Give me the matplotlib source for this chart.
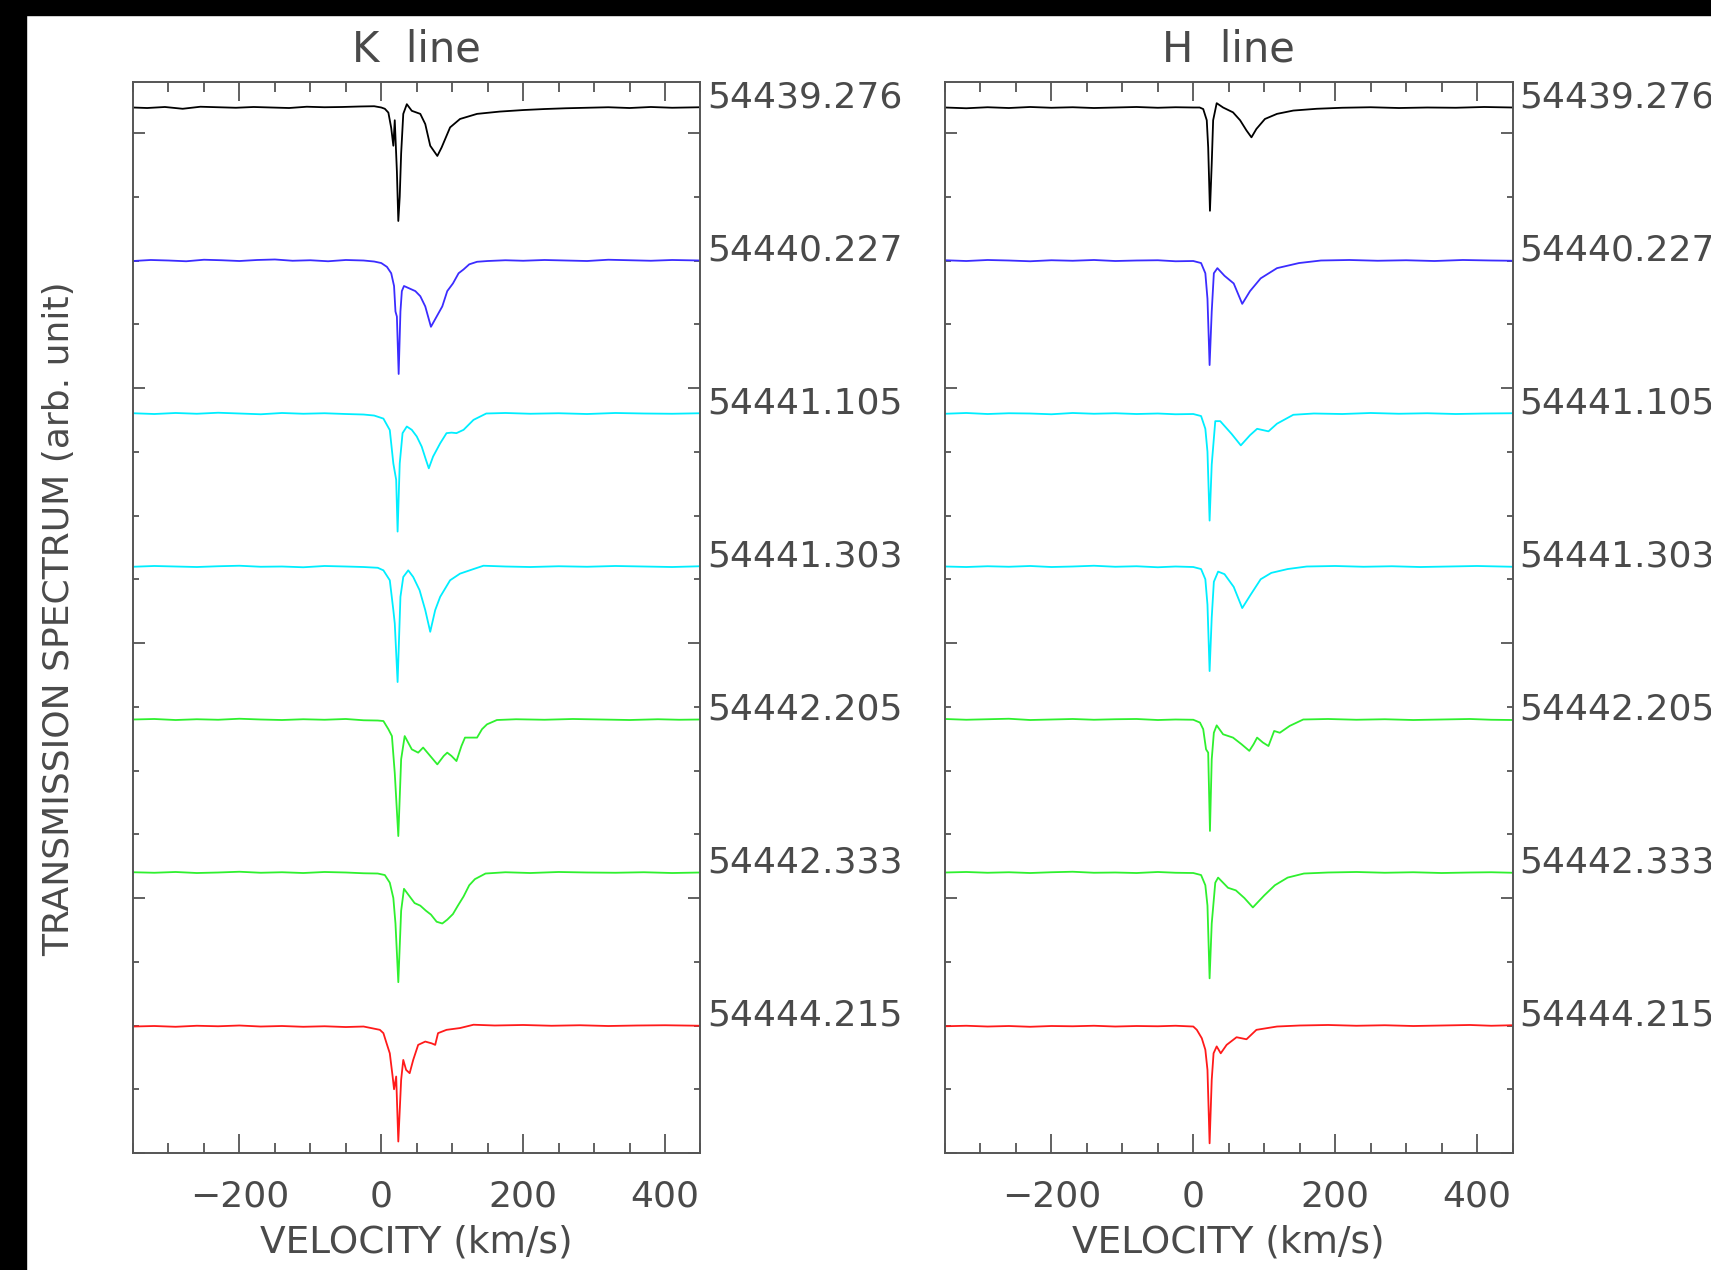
import matplotlib
matplotlib.use('Agg')
import matplotlib.pyplot as plt
from matplotlib.ticker import MultipleLocator
from matplotlib.patches import Rectangle

# dates (MJD) of the 7 spectra, top to bottom
dates = ["54439.276", "54440.227", "54441.105", "54441.303", "54442.205", "54442.333", "54444.215"]
colors = ['black', '#3b2cff', '#00eeff', '#00eeff', '#2ef02e', '#2ef02e', '#ff1a1a']
offsets = [3.1, 2.5, 1.9, 1.3, 0.7, 0.1, -0.5]

# ---- K line: velocity (km/s) and normalized transmission
k0_v = [-350, -330, -305, -280, -255, -230, -205, -180, -155, -130, -105, -80, -55, -30, -10, 0, 5, 10, 14, 17, 19, 22, 24, 26, 28, 31, 36, 43, 55, 62, 69, 79, 85, 97, 111, 135, 167, 200, 230, 260, 290, 320, 350, 380, 410, 450]
k0_f = [1.000, 0.998, 1.002, 0.995, 1.003, 1.001, 0.999, 1.002, 1.000, 0.998, 1.003, 1.001, 1.002, 1.004, 1.005, 1.000, 0.995, 0.980, 0.920, 0.850, 0.950, 0.750, 0.555, 0.650, 0.820, 0.975, 1.013, 0.987, 0.975, 0.935, 0.850, 0.810, 0.843, 0.922, 0.955, 0.975, 0.984, 0.990, 0.994, 0.997, 0.999, 1.001, 0.998, 1.002, 0.999, 1.001]

k1_v = [-350, -325, -300, -275, -250, -225, -200, -175, -150, -125, -100, -75, -50, -25, -10, 0, 8, 14, 18, 20, 22, 24.5, 27, 29, 32, 40, 48, 55, 62, 70, 78, 86, 93, 101, 109, 116, 124, 135, 150, 175, 200, 230, 260, 290, 320, 350, 380, 410, 450]
k1_f = [0.998, 1.002, 1.000, 0.997, 1.003, 1.001, 0.998, 1.002, 1.004, 0.999, 1.001, 0.997, 1.002, 1.000, 0.996, 0.990, 0.975, 0.950, 0.900, 0.800, 0.780, 0.555, 0.800, 0.880, 0.900, 0.890, 0.880, 0.860, 0.820, 0.740, 0.780, 0.820, 0.880, 0.910, 0.950, 0.965, 0.985, 0.995, 0.998, 1.001, 0.999, 1.002, 1.000, 0.998, 1.003, 1.001, 0.999, 1.002, 1.000]

k2_v = [-350, -320, -290, -260, -230, -200, -170, -140, -110, -80, -50, -25, -10, 3, 12, 17, 21, 23, 26, 30, 36, 43, 50, 57, 63, 67, 73, 83, 92, 99, 106, 116, 130, 148, 175, 210, 250, 290, 330, 370, 410, 450]
k2_f = [1.001, 0.998, 1.002, 0.999, 1.003, 1.000, 0.997, 1.002, 0.999, 1.001, 0.998, 0.996, 0.992, 0.980, 0.935, 0.804, 0.740, 0.537, 0.804, 0.923, 0.949, 0.936, 0.910, 0.870, 0.818, 0.785, 0.831, 0.883, 0.923, 0.925, 0.923, 0.936, 0.975, 1.000, 1.002, 0.999, 1.001, 0.998, 1.002, 1.000, 0.999, 1.001]

k3_v = [-350, -320, -290, -260, -230, -200, -170, -140, -110, -80, -50, -25, -5, 3, 12, 17, 19, 23, 27, 31, 38, 45, 54, 62, 69, 76, 83, 97, 111, 130, 144, 175, 210, 250, 290, 330, 370, 410, 450]
k3_f = [0.999, 1.002, 1.000, 0.998, 1.001, 1.003, 0.999, 1.000, 0.997, 1.002, 1.000, 0.998, 0.995, 0.985, 0.946, 0.829, 0.777, 0.547, 0.881, 0.959, 0.985, 0.959, 0.907, 0.829, 0.744, 0.829, 0.881, 0.946, 0.972, 0.990, 1.003, 1.000, 0.998, 1.001, 0.999, 1.002, 1.000, 0.998, 1.001]

k4_v = [-350, -320, -290, -260, -230, -200, -170, -140, -110, -80, -50, -25, -5, 3, 10, 15, 19, 24, 28, 33, 43, 52, 59, 69, 79, 88, 93, 99, 106, 113, 118, 135, 142, 149, 163, 190, 230, 270, 310, 350, 390, 420, 450]
k4_f = [1.000, 1.002, 0.998, 1.001, 0.999, 1.003, 1.000, 0.998, 1.001, 0.999, 1.002, 0.997, 0.996, 0.994, 0.962, 0.935, 0.790, 0.543, 0.844, 0.935, 0.883, 0.870, 0.890, 0.857, 0.824, 0.857, 0.870, 0.857, 0.837, 0.896, 0.929, 0.929, 0.962, 0.981, 0.998, 1.001, 0.999, 1.002, 1.000, 0.998, 1.001, 0.999, 1.000]

k5_v = [-350, -320, -290, -260, -230, -200, -170, -140, -110, -80, -50, -25, -5, 5, 12, 17, 20, 24, 28, 32, 40, 47, 55, 63, 70, 78, 86, 93, 101, 108, 116, 124, 132, 147, 175, 210, 250, 290, 330, 370, 410, 450]
k5_f = [1.001, 0.999, 1.002, 0.998, 1.000, 1.003, 0.999, 1.001, 0.998, 1.002, 1.000, 0.997, 0.996, 0.990, 0.960, 0.900, 0.800, 0.570, 0.850, 0.936, 0.906, 0.880, 0.870, 0.850, 0.835, 0.807, 0.800, 0.815, 0.837, 0.870, 0.906, 0.950, 0.974, 0.996, 1.001, 0.998, 1.002, 1.000, 0.999, 1.001, 0.998, 1.000]

k6_v = [-350, -320, -290, -260, -230, -200, -170, -140, -110, -80, -50, -25, -2, 3, 7.5, 12, 16, 18, 21, 24, 28, 31, 35, 40, 45, 52, 62, 71, 76, 80, 92, 111, 130, 160, 200, 240, 280, 320, 360, 400, 450]
k6_f = [0.996, 0.998, 0.995, 0.999, 0.997, 1.000, 0.996, 0.998, 0.995, 0.997, 0.994, 0.996, 0.983, 0.970, 0.930, 0.891, 0.800, 0.750, 0.800, 0.545, 0.787, 0.865, 0.826, 0.813, 0.865, 0.924, 0.937, 0.930, 0.924, 0.970, 0.983, 0.990, 1.003, 1.000, 1.002, 0.999, 1.001, 0.998, 1.000, 1.001, 0.999]

# ---- H line
h0_v = [-350, -320, -290, -260, -230, -200, -170, -140, -110, -80, -50, -25, 0, 9, 14, 19, 21, 23.5, 26, 28, 33, 42, 56, 66, 75, 82, 89, 101, 118, 141, 174, 210, 250, 290, 330, 370, 410, 450]
h0_f = [1.000, 0.997, 1.001, 0.998, 1.002, 0.999, 1.001, 0.998, 1.000, 1.002, 0.999, 1.001, 1.000, 1.000, 0.994, 0.950, 0.844, 0.595, 0.780, 0.950, 1.017, 1.000, 0.981, 0.950, 0.910, 0.883, 0.916, 0.955, 0.975, 0.988, 0.995, 0.999, 1.001, 0.998, 1.000, 0.999, 1.002, 1.000]

h1_v = [-350, -320, -290, -260, -230, -200, -170, -140, -110, -80, -50, -25, 0, 11, 17, 20, 23, 26, 29, 34, 44, 57, 69, 80, 95, 118, 149, 180, 220, 260, 300, 340, 380, 420, 450]
h1_f = [1.001, 0.998, 1.002, 1.000, 0.997, 1.001, 0.999, 1.002, 0.998, 1.000, 1.001, 0.997, 0.998, 0.990, 0.950, 0.850, 0.590, 0.800, 0.950, 0.970, 0.940, 0.910, 0.830, 0.880, 0.930, 0.970, 0.990, 1.000, 1.002, 0.999, 1.001, 0.998, 1.002, 1.000, 0.999]

h2_v = [-350, -320, -290, -260, -230, -200, -170, -140, -110, -80, -50, -25, 0, 11, 17, 20, 23, 26, 31, 38, 54, 67, 80, 90, 98, 106, 118, 141, 170, 210, 250, 290, 330, 370, 410, 450]
h2_f = [0.999, 1.002, 0.998, 1.001, 1.000, 0.997, 1.002, 0.999, 1.001, 0.998, 1.000, 0.997, 0.998, 0.990, 0.940, 0.850, 0.580, 0.800, 0.970, 0.970, 0.920, 0.875, 0.915, 0.940, 0.935, 0.930, 0.960, 0.995, 1.000, 0.998, 1.002, 0.999, 1.001, 0.998, 1.000, 1.001]

h3_v = [-350, -320, -290, -260, -230, -200, -170, -140, -110, -80, -50, -25, 0, 11, 17, 20, 23, 26, 29, 35, 44, 57, 69, 81, 95, 110, 133, 160, 200, 240, 280, 320, 360, 400, 450]
h3_f = [1.000, 0.998, 1.001, 0.999, 1.002, 0.998, 1.000, 1.003, 0.999, 1.001, 0.997, 1.000, 0.998, 0.990, 0.950, 0.850, 0.590, 0.800, 0.940, 0.980, 0.970, 0.920, 0.837, 0.890, 0.950, 0.975, 0.990, 1.000, 1.002, 0.999, 1.001, 0.998, 1.000, 1.002, 0.999]

h4_v = [-350, -320, -290, -260, -230, -200, -170, -140, -110, -80, -50, -25, 0, 9.4, 14, 18, 21, 23.5, 26, 29, 33, 42, 56, 68, 79, 85, 90, 98, 106, 114, 122, 136, 155, 190, 230, 270, 310, 350, 390, 420, 450]
h4_f = [1.002, 0.999, 1.001, 1.003, 0.998, 1.000, 1.002, 0.999, 1.001, 1.002, 0.998, 1.000, 0.999, 0.988, 0.962, 0.883, 0.870, 0.563, 0.844, 0.948, 0.977, 0.942, 0.929, 0.903, 0.877, 0.903, 0.929, 0.910, 0.896, 0.955, 0.948, 0.975, 1.000, 1.002, 0.999, 1.001, 0.998, 1.000, 1.002, 0.999, 0.998]

h5_v = [-350, -320, -290, -260, -230, -200, -170, -140, -110, -80, -50, -25, 0, 11, 17, 20, 23, 26, 31, 35, 49, 60, 72, 84, 100, 115, 133, 156, 190, 230, 270, 310, 350, 390, 420, 450]
h5_f = [1.000, 1.002, 0.999, 1.001, 0.998, 1.001, 1.003, 0.999, 1.000, 0.998, 1.002, 0.999, 0.998, 0.990, 0.950, 0.870, 0.585, 0.800, 0.960, 0.980, 0.940, 0.930, 0.900, 0.863, 0.910, 0.950, 0.980, 0.996, 1.000, 1.002, 0.999, 1.001, 0.998, 1.000, 1.001, 0.999]

h6_v = [-350, -320, -290, -260, -230, -200, -170, -140, -110, -80, -50, -25, 0, 5, 12, 17, 20, 23, 26, 28.6, 33, 38.7, 47, 61, 75, 89, 118, 150, 190, 230, 270, 310, 350, 390, 420, 450]
h6_f = [0.997, 0.999, 0.996, 0.998, 0.995, 0.998, 0.997, 0.999, 0.996, 0.998, 0.997, 0.999, 0.996, 0.983, 0.950, 0.905, 0.826, 0.538, 0.787, 0.891, 0.918, 0.891, 0.924, 0.954, 0.946, 0.983, 0.996, 1.000, 1.002, 0.999, 1.001, 0.998, 1.000, 1.002, 0.999, 1.001]

k_spectra = [(k0_v, k0_f), (k1_v, k1_f), (k2_v, k2_f), (k3_v, k3_f), (k4_v, k4_f), (k5_v, k5_f), (k6_v, k6_f)]
h_spectra = [(h0_v, h0_f), (h1_v, h1_f), (h2_v, h2_f), (h3_v, h3_f), (h4_v, h4_f), (h5_v, h5_f), (h6_v, h6_f)]

plt.rcParams['font.family'] = ['DejaVu Sans']
txt_color = '#4a4a4a'
axis_color = '#555555'

fig = plt.figure(figsize=(17.11, 12.70), dpi=100)
fig.patch.set_facecolor('white')

# screenshot black borders
fig.patches.append(Rectangle((0, 1 - 15 / 1270), 1, 15 / 1270, transform=fig.transFigure, color='black', zorder=0))
fig.patches.append(Rectangle((0, 0), 26 / 1711, 1, transform=fig.transFigure, color='black', zorder=0))

panels = [(133 / 1711, k_spectra, 'K  line'), (945 / 1711, h_spectra, 'H  line')]
for left, spectra, title in panels:
    ax = fig.add_axes([left, 117 / 1270, 567.5 / 1711, 1071 / 1270])
    for (v, f), off, c, d in zip(spectra, offsets, colors, dates):
        ax.plot(v, [x + off for x in f], color=c, lw=1.3)
        # the right-hand labels run off the figure edge, as in the original screenshot
        ax.annotate(d, xy=(1, 1 + off), xycoords=('axes fraction', 'data'),
                    xytext=(5, 7), textcoords='offset points', ha='left', va='center',
                    fontsize=26, color=txt_color, annotation_clip=False)
    ax.set_xlim(-350, 450)
    ax.set_ylim(0, 4.2)
    ax.xaxis.set_major_locator(MultipleLocator(200))
    ax.xaxis.set_minor_locator(MultipleLocator(50))
    ax.yaxis.set_major_locator(MultipleLocator(1))
    ax.yaxis.set_minor_locator(MultipleLocator(0.25))
    ax.tick_params(which='both', direction='in', top=True, right=True, color=axis_color, width=1.3)
    ax.tick_params(axis='x', which='major', length=14, pad=19, labelsize=26, labelcolor=txt_color)
    ax.tick_params(axis='x', which='minor', length=7)
    ax.tick_params(axis='y', which='major', length=8.5, labelleft=False)
    ax.tick_params(axis='y', which='minor', length=4.3)
    for s in ax.spines.values():
        s.set_color(axis_color)
        s.set_linewidth(1.4)
    ax.set_xlabel('VELOCITY (km/s)', fontsize=27, color=txt_color, labelpad=8)
    ax.set_title(title, fontsize=30, color=txt_color, pad=15)

fig.text(59 / 1711, 1 - 619 / 1270, 'TRANSMISSION SPECTRUM (arb. unit)', rotation=90,
         ha='center', va='center', fontsize=26, color=txt_color)

fig.savefig('out.png', dpi=100)
